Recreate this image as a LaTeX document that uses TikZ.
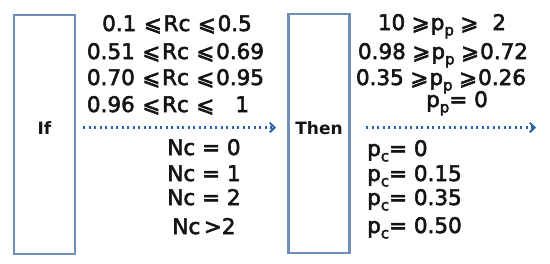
\documentclass[tikz,border=0pt]{standalone}
\usepackage{fontspec}
\setmainfont{DejaVu Sans}[BoldFont=DejaVu Sans Bold]
\newfontfamily\condfont{DejaVu Sans}[FakeBold=2.6]
\usetikzlibrary{arrows.meta}
\definecolor{boxblue}{RGB}{112,142,186}
\definecolor{arrblue}{RGB}{40,100,170}
\definecolor{ink}{RGB}{20,20,20}
\newcommand\subx[1]{\raisebox{-0.25em}{\fontsize{15}{15}\selectfont #1}}
\newcommand\myle{\hspace{0.35em}⩽\hspace{0.08em}}
\newcommand\myge{\hspace{0.3em}⩾\hspace{0.05em}}
\begin{document}
\begin{tikzpicture}[x=1pt,y=-1pt,
  panel/.style={draw=boxblue,line width=2.8pt,minimum width=61pt,minimum height=239pt,inner sep=0pt},
  lbl/.style={text=ink,font=\fontsize{17}{20}\selectfont\bfseries,inner sep=0pt,anchor=base},
  cond/.style={text=ink,font=\fontsize{21.5}{24}\condfont,inner sep=0pt,anchor=base},
  flow/.style={draw=arrblue,line width=2.2pt,dash pattern=on 2.2pt off 3.3pt,
    -{Straight Barb[length=4.5pt,width=9pt,line width=2pt,line cap=round]}}]
\useasboundingbox (0,0) rectangle (550,263);
% boxes
\node[panel] (ifbox) at (44.5,134.5) {};
\node[panel] (thenbox) at (319,133.5) {};
\node[lbl] (iflbl) at (44.5,134) {If};
\node[lbl] (thenlbl) at (319,134) {Then};
% arrows
\coordinate (a1s) at (83,127.5);
\coordinate (a1e) at (276,127.5);
\coordinate (a2s) at (366,127.5);
\coordinate (a2e) at (536,127.5);
\draw[flow] (a1s) -- (a1e);
\draw[flow] (a2s) -- (a2e);
% If conditions
\node[cond] (r1) at (177,31) {0.1\myle Rc\myle 0.5};
\node[cond] (r2) at (175.5,59) {0.51\myle Rc\myle 0.69};
\node[cond] (r3) at (175.5,85) {0.70\myle Rc\myle 0.95};
\node[cond] (r4) at (168,112) {0.96\myle Rc\myle\hspace{0.9em}1};
\node[cond] (n1) at (204,155) {Nc = 0};
\node[cond] (n2) at (204,181) {Nc = 1};
\node[cond] (n3) at (204,205) {Nc = 2};
\node[cond] (n4) at (204,234) {Nc{\,}>2};
% Then results
\node[cond] (p1) at (442,30) {10\myge p\subx{p}\myge\hspace{0.6em}2};
\node[cond] (p2) at (443,59) {0.98\myge p\subx{p}\myge 0.72};
\node[cond] (p3) at (441,85) {0.35\myge p\subx{p}\myge 0.26};
\node[cond] (p4) at (457,107) {p\subx{p}= 0};
\node[cond,anchor=base west] (c1) at (367,156) {p\subx{c}= 0};
\node[cond,anchor=base west] (c2) at (367,181) {p\subx{c}= 0.15};
\node[cond,anchor=base west] (c3) at (367,205) {p\subx{c}= 0.35};
\node[cond,anchor=base west] (c4) at (367,233) {p\subx{c}= 0.50};
\end{tikzpicture}
\end{document}
